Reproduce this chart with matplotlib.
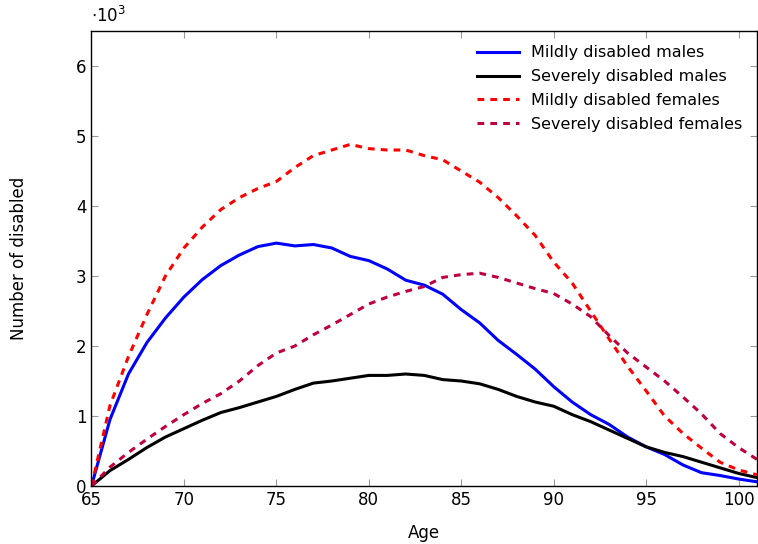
import matplotlib
matplotlib.use("Agg")
import matplotlib.pyplot as plt
from matplotlib.ticker import FuncFormatter

# eta e numero di disabili (persone)
ages = list(range(65, 102))

mild_males = [0, 950, 1600, 2050, 2400, 2700, 2950, 3150, 3300, 3420, 3470, 3430,
              3450, 3400, 3280, 3220, 3100, 2940, 2870, 2740, 2520, 2330, 2080,
              1880, 1670, 1420, 1200, 1020, 880, 700, 560, 450, 300, 190, 150,
              100, 60]
severe_males = [0, 220, 380, 550, 700, 820, 940, 1050, 1120, 1200, 1280, 1380,
                1470, 1500, 1540, 1580, 1580, 1600, 1580, 1520, 1500, 1460, 1380,
                1280, 1200, 1140, 1020, 920, 800, 680, 560, 480, 420, 340, 260,
                180, 120]
mild_females = [0, 1150, 1850, 2450, 3000, 3400, 3700, 3950, 4120, 4250, 4350,
                4550, 4720, 4800, 4880, 4820, 4800, 4800, 4720, 4660, 4500, 4340,
                4120, 3860, 3580, 3200, 2900, 2500, 2100, 1710, 1360, 1000, 750,
                540, 340, 230, 160]
severe_females = [0, 270, 480, 670, 850, 1020, 1180, 1320, 1500, 1720, 1900,
                  2000, 2160, 2300, 2450, 2600, 2700, 2780, 2850, 2980, 3020,
                  3040, 2980, 2900, 2820, 2750, 2600, 2420, 2150, 1900, 1700,
                  1500, 1270, 1030, 750, 550, 380]

plt.rcParams['font.family'] = ['DejaVu Sans']
plt.rcParams['font.size'] = 11

fig = plt.figure(figsize=(7.58, 5.44), dpi=100)
ax = fig.add_axes([0.1207, 0.1066, 0.878, 0.8364])

ax.plot(ages, mild_males, color='#0000ff', lw=2.2, label='Mildly disabled males')
ax.plot(ages, severe_males, color='black', lw=2.2, label='Severely disabled males')
ax.plot(ages, mild_females, color='#ff0000', lw=2.2, ls=(0, (2.2, 2.0)),
        label='Mildly disabled females')
ax.plot(ages, severe_females, color='#bf0040', lw=2.2, ls=(0, (2.2, 2.0)),
        label='Severely disabled females')

ax.set_xlim(65, 101)
ax.set_ylim(0, 6500)
ax.set_xticks([65, 70, 75, 80, 85, 90, 95, 100])
ax.set_yticks([0, 1000, 2000, 3000, 4000, 5000, 6000])
ax.yaxis.set_major_formatter(FuncFormatter(lambda v, p: f"{v/1000:g}"))
ax.tick_params(direction='in', length=5, color='#999999', top=True, right=True,
               labelsize=12)
for s in ax.spines.values():
    s.set_linewidth(1.0)

ax.set_xlabel('Age', fontsize=12)
ax.set_ylabel('Number of disabled', fontsize=12)
ax.xaxis.set_label_coords(0.5, -0.083)
ax.yaxis.set_label_coords(-0.095, 0.5)
ax.text(0.0, 1.01, r'$\cdot 10^3$', transform=ax.transAxes, fontsize=12,
        ha='left', va='bottom')

ax.legend(loc='upper right', frameon=False, fontsize=11.5, handlelength=2.6,
          labelspacing=0.55, borderaxespad=0.5)

fig.savefig('out.png', dpi=100)
